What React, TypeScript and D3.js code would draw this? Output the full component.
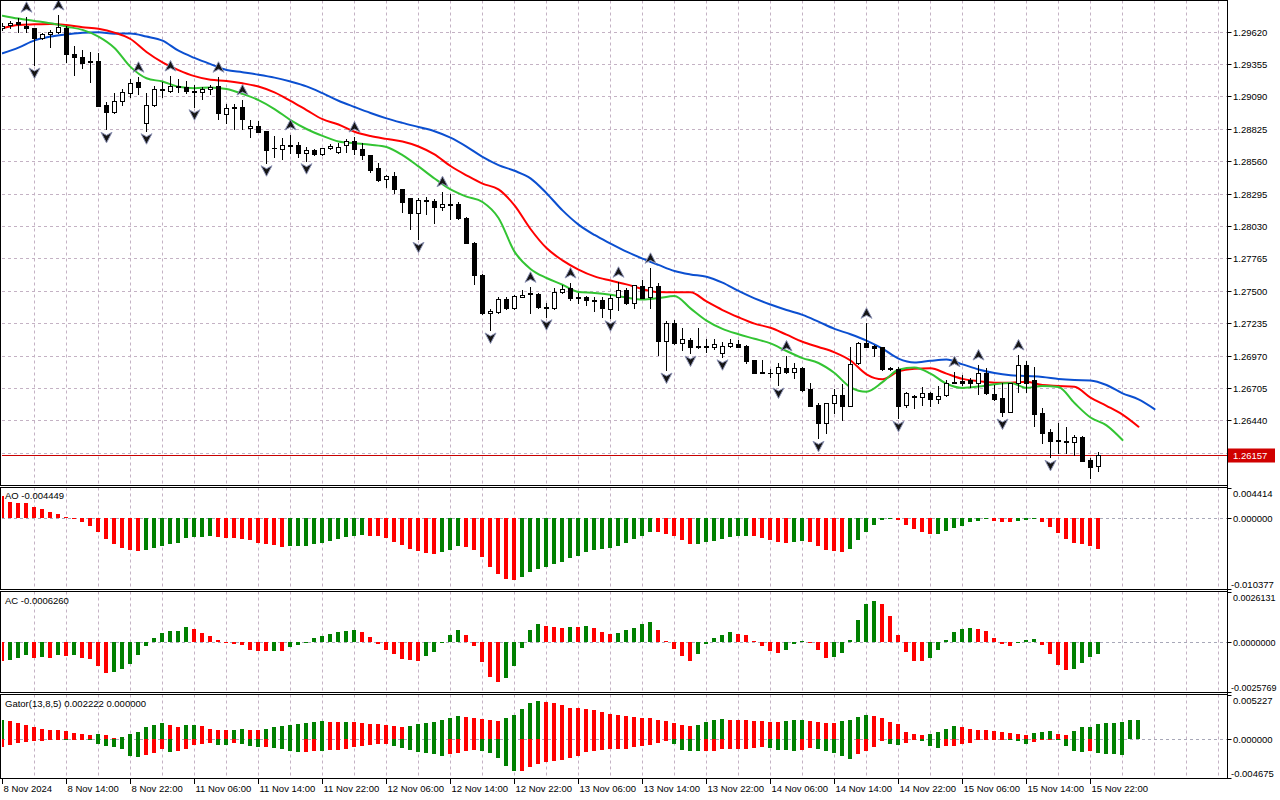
import React, { useEffect, useRef } from 'react';
import * as d3 from 'd3';

// ---------- DATA ----------
// OHLC candles (H1), index 0 = 8 Nov 2024 06:00
const candles: number[][] = [
  [1.29650, 1.29688, 1.29634, 1.29666], [1.29672, 1.29710, 1.29648, 1.29693], [1.29699, 1.29729, 1.29615, 1.29683],
  [1.29669, 1.29738, 1.29620, 1.29648], [1.29648, 1.29652, 1.29347, 1.29566], [1.29571, 1.29607, 1.29558, 1.29598],
  [1.29601, 1.29634, 1.29497, 1.29620], [1.29620, 1.29756, 1.29607, 1.29661], [1.29648, 1.29666, 1.29374, 1.29437],
  [1.29437, 1.29503, 1.29266, 1.29410], [1.29410, 1.29470, 1.29320, 1.29366], [1.29380, 1.29456, 1.29211, 1.29369],
  [1.29380, 1.29448, 1.29010, 1.29012], [1.29018, 1.29047, 1.28821, 1.28965], [1.28965, 1.29116, 1.28957, 1.29053],
  [1.29053, 1.29149, 1.29020, 1.29129], [1.29121, 1.29233, 1.29088, 1.29198], [1.29208, 1.29247, 1.29110, 1.29165],
  [1.28870, 1.29121, 1.28810, 1.29018], [1.29018, 1.29176, 1.29012, 1.29149], [1.29149, 1.29211, 1.29088, 1.29140],
  [1.29135, 1.29257, 1.29129, 1.29176], [1.29176, 1.29233, 1.29129, 1.29170], [1.29170, 1.29219, 1.29121, 1.29132],
  [1.29137, 1.29181, 1.29006, 1.29126], [1.29126, 1.29165, 1.29067, 1.29149], [1.29149, 1.29184, 1.29108, 1.29165],
  [1.29176, 1.29247, 1.28906, 1.28952], [1.28947, 1.29028, 1.28870, 1.28996], [1.28993, 1.29028, 1.28821, 1.29004],
  [1.29001, 1.29061, 1.28821, 1.28903], [1.28830, 1.28897, 1.28761, 1.28848], [1.28848, 1.28892, 1.28800, 1.28802],
  [1.28807, 1.28810, 1.28548, 1.28652], [1.28671, 1.28767, 1.28597, 1.28666], [1.28663, 1.28753, 1.28576, 1.28690],
  [1.28693, 1.28775, 1.28630, 1.28687], [1.28690, 1.28720, 1.28597, 1.28630], [1.28630, 1.28679, 1.28565, 1.28652],
  [1.28652, 1.28660, 1.28611, 1.28619], [1.28619, 1.28671, 1.28615, 1.28666], [1.28668, 1.28701, 1.28658, 1.28685],
  [1.28633, 1.28707, 1.28625, 1.28674], [1.28693, 1.28740, 1.28638, 1.28728], [1.28728, 1.28758, 1.28619, 1.28658],
  [1.28658, 1.28707, 1.28576, 1.28611], [1.28611, 1.28615, 1.28474, 1.28488], [1.28502, 1.28543, 1.28401, 1.28407],
  [1.28417, 1.28448, 1.28352, 1.28439], [1.28439, 1.28474, 1.28298, 1.28331], [1.28331, 1.28335, 1.28147, 1.28229],
  [1.28257, 1.28260, 1.28003, 1.28134], [1.28134, 1.28257, 1.27922, 1.28243], [1.28237, 1.28270, 1.28129, 1.28243],
  [1.28237, 1.28249, 1.28052, 1.28183], [1.28183, 1.28311, 1.28161, 1.28208], [1.28208, 1.28292, 1.28090, 1.28202],
  [1.28208, 1.28229, 1.28090, 1.28093], [1.28093, 1.28101, 1.27890, 1.27894], [1.27894, 1.27898, 1.27556, 1.27630],
  [1.27630, 1.27638, 1.27312, 1.27316], [1.27316, 1.27349, 1.27180, 1.27338], [1.27329, 1.27452, 1.27316, 1.27431],
  [1.27431, 1.27447, 1.27349, 1.27357], [1.27357, 1.27466, 1.27349, 1.27458], [1.27452, 1.27507, 1.27447, 1.27463],
  [1.27472, 1.27529, 1.27316, 1.27485], [1.27474, 1.27485, 1.27357, 1.27365], [1.27365, 1.27403, 1.27288, 1.27357],
  [1.27357, 1.27520, 1.27349, 1.27493], [1.27493, 1.27545, 1.27480, 1.27517], [1.27526, 1.27564, 1.27425, 1.27439],
  [1.27452, 1.27485, 1.27403, 1.27441], [1.27452, 1.27458, 1.27384, 1.27425], [1.27425, 1.27452, 1.27338, 1.27419],
  [1.27425, 1.27447, 1.27288, 1.27357], [1.27349, 1.27466, 1.27280, 1.27444], [1.27452, 1.27570, 1.27343, 1.27507],
  [1.27507, 1.27521, 1.27392, 1.27398], [1.27398, 1.27548, 1.27357, 1.27545], [1.27540, 1.27589, 1.27439, 1.27444],
  [1.27447, 1.27684, 1.27357, 1.27534], [1.27540, 1.27562, 1.26975, 1.27090], [1.27090, 1.27256, 1.26852, 1.27239],
  [1.27239, 1.27261, 1.27065, 1.27071], [1.27076, 1.27194, 1.27016, 1.27104], [1.27098, 1.27112, 1.26991, 1.27043],
  [1.27049, 1.27194, 1.27030, 1.27043], [1.27049, 1.27104, 1.27002, 1.27038], [1.27038, 1.27108, 1.27022, 1.27065],
  [1.26989, 1.27084, 1.26961, 1.27049], [1.27049, 1.27104, 1.27038, 1.27071], [1.27063, 1.27098, 1.27038, 1.27043],
  [1.27049, 1.27057, 1.26912, 1.26929], [1.26934, 1.26938, 1.26825, 1.26830], [1.26834, 1.26934, 1.26825, 1.26827],
  [1.26830, 1.26858, 1.26798, 1.26825], [1.26825, 1.26907, 1.26730, 1.26875], [1.26871, 1.26967, 1.26830, 1.26839],
  [1.26839, 1.26907, 1.26785, 1.26866], [1.26871, 1.26879, 1.26683, 1.26689], [1.26695, 1.26749, 1.26555, 1.26558],
  [1.26566, 1.26585, 1.26294, 1.26416], [1.26416, 1.26585, 1.26337, 1.26580], [1.26580, 1.26695, 1.26503, 1.26645],
  [1.26648, 1.26738, 1.26443, 1.26558], [1.26558, 1.27043, 1.26555, 1.26899], [1.26907, 1.27084, 1.26902, 1.27071],
  [1.27071, 1.27234, 1.27040, 1.27043], [1.27049, 1.27057, 1.26967, 1.27030], [1.27038, 1.27042, 1.26852, 1.26858],
  [1.26866, 1.26875, 1.26852, 1.26858], [1.26858, 1.26875, 1.26457, 1.26558], [1.26566, 1.26675, 1.26552, 1.26667],
  [1.26629, 1.26648, 1.26544, 1.26640], [1.26629, 1.26711, 1.26566, 1.26662], [1.26662, 1.26675, 1.26558, 1.26613],
  [1.26613, 1.26722, 1.26580, 1.26642], [1.26648, 1.26771, 1.26640, 1.26749], [1.26749, 1.26839, 1.26744, 1.26757],
  [1.26760, 1.26812, 1.26730, 1.26749], [1.26771, 1.26785, 1.26711, 1.26744], [1.26744, 1.26893, 1.26656, 1.26825],
  [1.26830, 1.26866, 1.26656, 1.26662], [1.26656, 1.26730, 1.26607, 1.26615], [1.26621, 1.26744, 1.26476, 1.26511],
  [1.26511, 1.26749, 1.26508, 1.26744], [1.26744, 1.26975, 1.26675, 1.26893], [1.26893, 1.26926, 1.26675, 1.26744],
  [1.26771, 1.26879, 1.26394, 1.26492], [1.26498, 1.26539, 1.26253, 1.26340], [1.26345, 1.26367, 1.26138, 1.26274],
  [1.26280, 1.26421, 1.26171, 1.26269], [1.26274, 1.26384, 1.26171, 1.26263], [1.26266, 1.26321, 1.26157, 1.26307],
  [1.26307, 1.26312, 1.26108, 1.26111], [1.26116, 1.26130, 1.25967, 1.26061], [1.26067, 1.26184, 1.26029, 1.26157],
];

const upFractals = [3, 7, 17, 21, 27, 30, 36, 44, 55, 66, 71, 77, 81, 98, 108, 119, 122, 127];
const downFractals = [4, 13, 18, 24, 33, 38, 52, 61, 68, 76, 83, 86, 90, 97, 102, 112, 125, 131];

// Alligator lines, one value every 2 bars (bar 0, 2, 4, ...)
const jawLine = [
  1.29443, 1.29489, 1.29549, 1.29580, 1.29598, 1.29612, 1.29615, 1.29603, 1.29605, 1.29580,
  1.29547, 1.29464, 1.29405, 1.29354, 1.29307, 1.29288, 1.29268, 1.29244, 1.29212, 1.29173,
  1.29117, 1.29055, 1.29004, 1.28955, 1.28911, 1.28874, 1.28840, 1.28806, 1.28753, 1.28680,
  1.28596, 1.28529, 1.28482, 1.28420, 1.28299, 1.28158, 1.28042, 1.27957, 1.27887, 1.27821,
  1.27764, 1.27712, 1.27662, 1.27634, 1.27616, 1.27567, 1.27499, 1.27438, 1.27388, 1.27343,
  1.27304, 1.27248, 1.27189, 1.27145, 1.27093, 1.27027, 1.26946, 1.26914, 1.26928, 1.26938,
  1.26899, 1.26857, 1.26828, 1.26810, 1.26803, 1.26796, 1.26780, 1.26771, 1.26767, 1.26730,
  1.26662, 1.26612, 1.26533,
];
const teethLine = [
  1.29648, 1.29675, 1.29680, 1.29683, 1.29674, 1.29657, 1.29643, 1.29612, 1.29560, 1.29454,
  1.29369, 1.29306, 1.29256, 1.29226, 1.29217, 1.29198, 1.29171, 1.29123, 1.29054, 1.28979,
  1.28904, 1.28861, 1.28801, 1.28766, 1.28743, 1.28722, 1.28681, 1.28616, 1.28521, 1.28445,
  1.28377, 1.28330, 1.28199, 1.28006, 1.27850, 1.27749, 1.27674, 1.27618, 1.27584, 1.27553,
  1.27514, 1.27490, 1.27488, 1.27488, 1.27413, 1.27343, 1.27284, 1.27232, 1.27198, 1.27142,
  1.27084, 1.27041, 1.26997, 1.26930, 1.26817, 1.26776, 1.26841, 1.26862, 1.26866, 1.26823,
  1.26780, 1.26761, 1.26749, 1.26749, 1.26757, 1.26729, 1.26722, 1.26715, 1.26627, 1.26560,
  1.26488, 1.26389,
];
const lipsLine = [
  1.29751, 1.29727, 1.29708, 1.29688, 1.29661, 1.29635, 1.29580, 1.29487, 1.29332, 1.29239,
  1.29212, 1.29169, 1.29157, 1.29164, 1.29151, 1.29111, 1.29060, 1.28987, 1.28897, 1.28824,
  1.28768, 1.28722, 1.28708, 1.28695, 1.28677, 1.28610, 1.28518, 1.28419, 1.28330, 1.28271,
  1.28227, 1.28096, 1.27821, 1.27679, 1.27605, 1.27550, 1.27491, 1.27483, 1.27468, 1.27445,
  1.27429, 1.27441, 1.27458, 1.27357, 1.27257, 1.27189, 1.27145, 1.27108, 1.27070, 1.27008,
  1.26950, 1.26910, 1.26828, 1.26711, 1.26675, 1.26753, 1.26855, 1.26874, 1.26823, 1.26740,
  1.26706, 1.26717, 1.26736, 1.26747, 1.26707, 1.26722, 1.26713, 1.26582, 1.26464, 1.26400,
  1.26280,
];

const aoValues = [
  0.00322, 0.00235, 0.00226, 0.00216, 0.00163, 0.00130, 0.00086, 0.00058, 0.00014, -0.00005,
  -0.00062, -0.00110, -0.00197, -0.00312, -0.00375, -0.00432, -0.00471, -0.00485, -0.00471, -0.00442,
  -0.00413, -0.00384, -0.00360, -0.00298, -0.00279, -0.00269, -0.00264, -0.00269, -0.00288, -0.00290,
  -0.00302, -0.00317, -0.00360, -0.00375, -0.00398, -0.00418, -0.00413, -0.00410, -0.00408, -0.00384,
  -0.00365, -0.00336, -0.00312, -0.00279, -0.00255, -0.00245, -0.00255, -0.00264, -0.00298, -0.00346,
  -0.00398, -0.00446, -0.00485, -0.00504, -0.00528, -0.00500, -0.00461, -0.00413, -0.00423, -0.00471,
  -0.00567, -0.00720, -0.00817, -0.00893, -0.00903, -0.00864, -0.00792, -0.00749, -0.00715, -0.00676,
  -0.00642, -0.00584, -0.00555, -0.00497, -0.00468, -0.00454, -0.00440, -0.00401, -0.00367, -0.00309,
  -0.00266, -0.00208, -0.00210, -0.00237, -0.00266, -0.00324, -0.00386, -0.00384, -0.00353, -0.00338,
  -0.00309, -0.00280, -0.00266, -0.00256, -0.00266, -0.00295, -0.00324, -0.00353, -0.00367, -0.00353,
  -0.00338, -0.00353, -0.00411, -0.00469, -0.00483, -0.00498, -0.00454, -0.00324, -0.00198, -0.00097,
  -0.00024, -0.00010, -0.00024, -0.00097, -0.00155, -0.00198, -0.00227, -0.00225, -0.00184, -0.00140,
  -0.00111, -0.00063, -0.00039, -0.00010, -0.00039, -0.00053, -0.00056, -0.00039, -0.00034, -0.00019,
  -0.00053, -0.00126, -0.00213, -0.00300, -0.00357, -0.00386, -0.00415, -0.004449,
];
const aoBefore = 0.0034;

const acValues = [
  -0.000967, -0.000933, -0.000797, -0.000644, -0.000797, -0.000746, -0.000797, -0.000644, -0.000695, -0.000661,
  -0.000797, -0.000848, -0.001204, -0.001611, -0.001560, -0.001408, -0.001102, -0.000644, -0.000187, 0.000220,
  0.000475, 0.000577, 0.000594, 0.000780, 0.000678, 0.000475, 0.000322, 0.000119, -0.000051, -0.000085,
  -0.000136, -0.000390, -0.000441, -0.000458, -0.000424, -0.000458, -0.000237, -0.000119, -0.000017, 0.000220,
  0.000322, 0.000424, 0.000526, 0.000577, 0.000628, 0.000526, 0.000271, -0.000085, -0.000390, -0.000594,
  -0.000848, -0.000899, -0.000950, -0.000695, -0.000492, 0.000017, 0.000373, 0.000628, 0.000373, -0.000187,
  -0.001001, -0.001815, -0.002069, -0.001866, -0.001204, -0.000288, 0.000628, 0.000933, 0.000865, 0.000814,
  0.000763, 0.000814, 0.000797, 0.000865, 0.000763, 0.000560, 0.000458, 0.000509, 0.000661, 0.000763,
  0.000967, 0.001068, 0.000661, 0.000051, -0.000356, -0.000712, -0.000967, -0.000611, -0.000068, 0.000204,
  0.000407, 0.000560, 0.000458, 0.000356, 0.000051, -0.000204, -0.000458, -0.000560, -0.000407, -0.000085,
  0.000051, -0.000034, -0.000407, -0.000814, -0.000763, -0.000560, 0.000102, 0.001170, 0.001984, 0.002137,
  0.001984, 0.001374, 0.000356, -0.000492, -0.000950, -0.000967, -0.000797, -0.000390, 0.000102, 0.000560,
  0.000712, 0.000763, 0.000712, 0.000611, 0.000204, -0.000085, -0.000187, -0.000017, 0.000102, 0.000153,
  -0.000136, -0.000594, -0.001153, -0.001459, -0.001408, -0.001052, -0.000746, -0.000626,
];
const acBefore = -0.0009;

const gatorUpper = [
  0.00219, 0.00207, 0.00183, 0.00159, 0.00135, 0.00119, 0.00107, 0.00100, 0.00098, 0.00064,
  0.00062, 0.00040, 0.00056, 0.00040, 0.00008, 0.00024, 0.00056, 0.00080, 0.00135, 0.00159,
  0.00183, 0.00159, 0.00135, 0.00159, 0.00163, 0.00147, 0.00119, 0.00107, 0.00100, 0.00111,
  0.00115, 0.00111, 0.00100, 0.00123, 0.00135, 0.00147, 0.00159, 0.00171, 0.00183, 0.00195,
  0.00207, 0.00199, 0.00195, 0.00197, 0.00195, 0.00187, 0.00175, 0.00173, 0.00159, 0.00147,
  0.00145, 0.00147, 0.00175, 0.00187, 0.00195, 0.00219, 0.00243, 0.00271, 0.00255, 0.00253,
  0.00231, 0.00219, 0.00217, 0.00243, 0.00283, 0.00350, 0.00422, 0.00446, 0.00444, 0.00422,
  0.00398, 0.00370, 0.00362, 0.00360, 0.00338, 0.00314, 0.00291, 0.00279, 0.00267, 0.00255,
  0.00253, 0.00243, 0.00219, 0.00207, 0.00183, 0.00159, 0.00147, 0.00159, 0.00195, 0.00219,
  0.00231, 0.00229, 0.00227, 0.00219, 0.00217, 0.00207, 0.00205, 0.00195, 0.00207, 0.00219,
  0.00221, 0.00207, 0.00195, 0.00193, 0.00191, 0.00207, 0.00219, 0.00255, 0.00279, 0.00277,
  0.00243, 0.00195, 0.00171, 0.00076, 0.00052, 0.00040, 0.00052, 0.00076, 0.00123, 0.00147,
  0.00145, 0.00123, 0.00111, 0.00100, 0.00088, 0.00076, 0.00064, 0.00052, 0.00050, 0.00064,
  0.00076, 0.00088, 0.00052, 0.00040, 0.00088, 0.00135, 0.00139, 0.00175, 0.00183, 0.00187,
  0.00195, 0.00219, 0.002222,
];
const gatorUpperBefore = 0.0021;
const gatorLower = [
  -0.00096, -0.00076, -0.00048, -0.00040, -0.00028, -0.00027, -0.00016, -0.00015, -0.00016, -0.00015,
  -0.00008, -0.00016, -0.00064, -0.00088, -0.00096, -0.00127, -0.00207, -0.00219, -0.00191, -0.00167,
  -0.00127, -0.00163, -0.00147, -0.00119, -0.00076, -0.00064, -0.00052, -0.00076, -0.00078, -0.00052,
  -0.00064, -0.00088, -0.00103, -0.00100, -0.00111, -0.00127, -0.00147, -0.00159, -0.00157, -0.00147,
  -0.00151, -0.00139, -0.00135, -0.00127, -0.00100, -0.00080, -0.00068, -0.00066, -0.00060, -0.00088,
  -0.00107, -0.00135, -0.00159, -0.00167, -0.00187, -0.00207, -0.00187, -0.00167, -0.00147, -0.00139,
  -0.00141, -0.00167, -0.00227, -0.00326, -0.00386, -0.00382, -0.00342, -0.00306, -0.00279, -0.00263,
  -0.00247, -0.00231, -0.00207, -0.00159, -0.00147, -0.00135, -0.00127, -0.00125, -0.00119, -0.00096,
  -0.00088, -0.00068, -0.00048, -0.00028, -0.00056, -0.00139, -0.00141, -0.00147, -0.00145, -0.00143,
  -0.00127, -0.00121, -0.00119, -0.00117, -0.00115, -0.00103, -0.00107, -0.00135, -0.00139, -0.00147,
  -0.00135, -0.00107, -0.00119, -0.00147, -0.00175, -0.00207, -0.00235, -0.00187, -0.00147, -0.00096,
  -0.00028, -0.00056, -0.00068, -0.00048, -0.00016, -0.00028, -0.00080, -0.00107, -0.00088, -0.00080,
  -0.00056, -0.00048, -0.00016, -0.00012, -0.00004, -0.00002, -0.00008, -0.00028, -0.00056, -0.00040,
  -0.00020, -0.00008, -0.00012, -0.00088, -0.00147, -0.00159, -0.00147, -0.00167, -0.00179, -0.00187,
  -0.00195,
];
const gatorLowerBefore = -0.0011;

const priceTicks = [1.29620, 1.29355, 1.29090, 1.28825, 1.28560, 1.28295, 1.28030, 1.27765, 1.27500, 1.27235, 1.26970, 1.26705, 1.26440];
const priceGrid = [...priceTicks, 1.26175];
const lastPrice = 1.26157;

const timeLabels = [
  '8 Nov 2024', '8 Nov 14:00', '8 Nov 22:00', '11 Nov 06:00', '11 Nov 14:00', '11 Nov 22:00',
  '12 Nov 06:00', '12 Nov 14:00', '12 Nov 22:00', '13 Nov 06:00', '13 Nov 14:00', '13 Nov 22:00',
  '14 Nov 06:00', '14 Nov 14:00', '14 Nov 22:00', '15 Nov 06:00', '15 Nov 14:00', '15 Nov 22:00',
];
const timeLabelEvery = 8;

const aoAxis = [0.004414, 0.0, -0.010377];
const acAxis = [0.0026131, 0.0, -0.0025769];
const gatorAxis = [0.005227, 0.0, -0.004675];

// ---------- COMPONENT ----------
export default function App() {
  const ref = useRef<SVGSVGElement>(null);

  useEffect(() => {
    const svg = d3.select(ref.current);
    svg.selectAll('*').remove();
    const FONT = '"Liberation Sans", Arial, sans-serif';
    const GRID = '#c4b2c4';
    const UP = '#008000';
    const DOWN = '#ff0000';
    const AXIS_X = 1227.5;
    const c = (v: number) => Math.round(v) + 0.5;

    const x = d3.scaleLinear().domain([0, 153]).range([2.5, 2.5 + 8 * 153]);

    const panels = {
      main: { top: 0.5, bottom: 485.5 },
      ao: { top: 487.5, bottom: 589.5 },
      ac: { top: 591.5, bottom: 692.5 },
      gator: { top: 694.5, bottom: 778.5 },
    };

    const yMain = d3.scaleLinear().domain([1.25912, 1.29879]).range([485, 0]);
    const yAO = d3.scaleLinear().domain([-0.010377, 0.004414]).range([589, 488]);
    const yAC = d3.scaleLinear().domain([-0.0025769, 0.0026131]).range([692, 592]);
    const yG = d3.scaleLinear().domain([-0.004675, 0.005227]).range([778, 695]);

    svg.append('rect').attr('width', 1280).attr('height', 800).attr('fill', '#ffffff');

    const defs = svg.append('defs');
    Object.entries(panels).forEach(([k, p]) => {
      defs.append('clipPath').attr('id', 'clip-' + k)
        .append('rect').attr('x', 2).attr('y', p.top + 0.5).attr('width', AXIS_X - 2.5).attr('height', p.bottom - p.top - 1);
    });

    // vertical grid in all panels
    const vgrid = d3.range(4, 153, 4).filter(i => x(i) < AXIS_X - 2);
    Object.entries(panels).forEach(([k, p]) => {
      const g = svg.append('g').attr('clip-path', `url(#clip-${k})`);
      g.selectAll('line').data(vgrid).join('line')
        .attr('x1', d => x(d)).attr('x2', d => x(d))
        .attr('y1', p.top).attr('y2', p.bottom)
        .attr('stroke', GRID).attr('stroke-width', 1).attr('stroke-dasharray', '3,3');
    });

    // horizontal grid main
    const gMain = svg.append('g').attr('clip-path', 'url(#clip-main)');
    gMain.selectAll('line.hg').data(priceGrid).join('line').attr('class', 'hg')
      .attr('x1', 2).attr('x2', AXIS_X)
      .attr('y1', d => c(yMain(d))).attr('y2', d => c(yMain(d)))
      .attr('stroke', GRID).attr('stroke-dasharray', '3,3');

    // zero lines in sub panels
    const zeroLines: [string, (v: number) => number][] = [['ao', yAO], ['ac', yAC], ['gator', yG]];
    zeroLines.forEach(([k, sc]) => {
      svg.append('line').attr('x1', 2).attr('x2', AXIS_X).attr('y1', c(sc(0))).attr('y2', c(sc(0)))
        .attr('stroke', '#a8a8b8').attr('stroke-dasharray', '3,3');
    });

    // current price line
    gMain.append('line').attr('x1', 2).attr('x2', AXIS_X)
      .attr('y1', c(yMain(lastPrice))).attr('y2', c(yMain(lastPrice)))
      .attr('stroke', '#c80000').attr('stroke-width', 1);

    // Alligator lines
    const lineGen = d3.line<number>()
      .x((d, k) => x(k * 2))
      .y(d => yMain(d))
      .curve(d3.curveMonotoneX);
    const lines: [number[], string][] = [[jawLine, '#0b4fd0'], [teethLine, '#ff0000'], [lipsLine, '#33c433']];
    lines.forEach(([data, color]) => {
      gMain.append('path').attr('d', lineGen(data) as string)
        .attr('fill', 'none').attr('stroke', color).attr('stroke-width', 2)
        .attr('stroke-linejoin', 'round').attr('stroke-linecap', 'round');
    });

    // candles
    const cg = gMain.append('g');
    candles.forEach((d, i) => {
      const [o, h, l, cl] = d;
      const cx = x(i);
      cg.append('line').attr('x1', cx).attr('x2', cx)
        .attr('y1', Math.round(yMain(h))).attr('y2', Math.round(yMain(l)) + 1)
        .attr('stroke', '#000').attr('stroke-width', 1);
      const yTop = Math.round(yMain(Math.max(o, cl)));
      const yBot = Math.round(yMain(Math.min(o, cl)));
      if (yBot - yTop < 1) {
        cg.append('line').attr('x1', cx - 2.5).attr('x2', cx + 2.5)
          .attr('y1', yTop + 0.5).attr('y2', yTop + 0.5).attr('stroke', '#000');
      } else {
        cg.append('rect').attr('x', cx - 2).attr('y', yTop + 0.5)
          .attr('width', 4).attr('height', yBot - yTop)
          .attr('fill', cl >= o ? '#ffffff' : '#000000')
          .attr('stroke', '#000').attr('stroke-width', 1);
      }
    });

    // fractals
    const upPath = 'M0,-5.5 L5.5,5 L0,2 L-5.5,5 Z';
    const downPath = 'M0,5.5 L5.5,-5 L0,-2 L-5.5,-5 Z';
    upFractals.forEach(i => {
      gMain.append('path').attr('d', upPath)
        .attr('transform', `translate(${x(i)},${yMain(candles[i][1]) - 10})`)
        .attr('fill', '#151515').attr('stroke', '#8d93b5').attr('stroke-width', 1)
        .attr('stroke-linejoin', 'miter');
    });
    downFractals.forEach(i => {
      gMain.append('path').attr('d', downPath)
        .attr('transform', `translate(${x(i)},${yMain(candles[i][2]) + 8})`)
        .attr('fill', '#151515').attr('stroke', '#8d93b5').attr('stroke-width', 1)
        .attr('stroke-linejoin', 'miter');
    });

    // histogram helper
    const hist = (key: string, vals: number[], sc: (v: number) => number, colorOf: (v: number, p: number) => string, before: number) => {
      const g = svg.append('g').attr('clip-path', `url(#clip-${key})`);
      const z = Math.round(sc(0));
      vals.forEach((v, i) => {
        const prev = i === 0 ? before : vals[i - 1];
        const yv = Math.round(sc(v));
        const y0 = Math.min(yv, z);
        const hh = Math.max(1, Math.abs(yv - z));
        g.append('rect').attr('x', x(i) - 2.5).attr('y', y0).attr('width', 4).attr('height', hh)
          .attr('fill', colorOf(v, prev));
      });
    };
    hist('ao', aoValues, yAO, (v, p) => (v > p ? UP : DOWN), aoBefore);
    hist('ac', acValues, yAC, (v, p) => (v > p ? UP : DOWN), acBefore);
    hist('gator', gatorUpper, yG, (v, p) => (v > p ? UP : DOWN), gatorUpperBefore);
    hist('gator', gatorLower, yG, (v, p) => (Math.abs(v) > Math.abs(p) ? UP : DOWN), gatorLowerBefore);

    // panel borders
    Object.values(panels).forEach(p => {
      svg.append('rect').attr('x', 0.5).attr('y', p.top).attr('width', AXIS_X - 0.5).attr('height', p.bottom - p.top)
        .attr('fill', 'none').attr('stroke', '#000').attr('stroke-width', 1);
    });

    // price axis
    const axisG = svg.append('g').attr('font-family', FONT).attr('font-size', 9.5).attr('fill', '#000');
    priceTicks.forEach(p => {
      const yy = c(yMain(p));
      axisG.append('line').attr('x1', AXIS_X).attr('x2', AXIS_X + 4).attr('y1', yy).attr('y2', yy).attr('stroke', '#000');
      axisG.append('text').attr('x', 1233).attr('y', yy + 3.5).text(p.toFixed(5));
    });
    // last price label
    const ly = c(yMain(lastPrice));
    axisG.append('rect').attr('x', 1228).attr('y', ly - 7).attr('width', 47).attr('height', 14).attr('fill', '#d00000');
    axisG.append('text').attr('x', 1233).attr('y', ly + 3.5).attr('fill', '#ffffff').text(lastPrice.toFixed(5));

    // sub-panel axes
    const subAxes: [number[], (v: number) => number, number, { top: number; bottom: number }][] = [
      [aoAxis, yAO, 6, panels.ao], [acAxis, yAC, 7, panels.ac], [gatorAxis, yG, 6, panels.gator],
    ];
    subAxes.forEach(([vals, sc, dec, p]) => {
      vals.forEach((v, k) => {
        const yy = c(sc(v));
        let ty = yy + 3.5;
        if (k === 0) ty = p.top + 9;
        if (k === 2) ty = p.bottom - 2;
        axisG.append('line').attr('x1', AXIS_X).attr('x2', AXIS_X + 4).attr('y1', yy).attr('y2', yy).attr('stroke', '#000');
        axisG.append('text').attr('x', v < 0 ? 1231 : 1233).attr('y', ty)
          .attr('font-size', dec === 7 ? 9 : 9.5).text(v.toFixed(dec));
      });
    });

    // titles
    axisG.append('text').attr('x', 5).attr('y', 499).text(`AO ${aoValues[aoValues.length - 1].toFixed(6)}`);
    axisG.append('text').attr('x', 5).attr('y', 604).text(`AC ${acValues[acValues.length - 1].toFixed(7)}`);
    axisG.append('text').attr('x', 5).attr('y', 707)
      .text(`Gator(13,8,5) ${gatorUpper[gatorUpper.length - 1].toFixed(6)} ${(0).toFixed(6)}`);

    // right axis line
    svg.append('line').attr('x1', AXIS_X).attr('x2', AXIS_X).attr('y1', 0).attr('y2', 779).attr('stroke', '#000');

    // time axis
    timeLabels.forEach((t, k) => {
      const xi = x(k * timeLabelEvery);
      axisG.append('line').attr('x1', xi).attr('x2', xi).attr('y1', 779).attr('y2', 784).attr('stroke', '#000');
      axisG.append('text').attr('x', xi + 1).attr('y', 792).text(t);
    });
  }, []);

  return (
    <div style={{ position: 'absolute', left: 0, top: 0 }}>
      <svg ref={ref} width={1280} height={800} style={{ display: 'block' }} />
    </div>
  );
}
